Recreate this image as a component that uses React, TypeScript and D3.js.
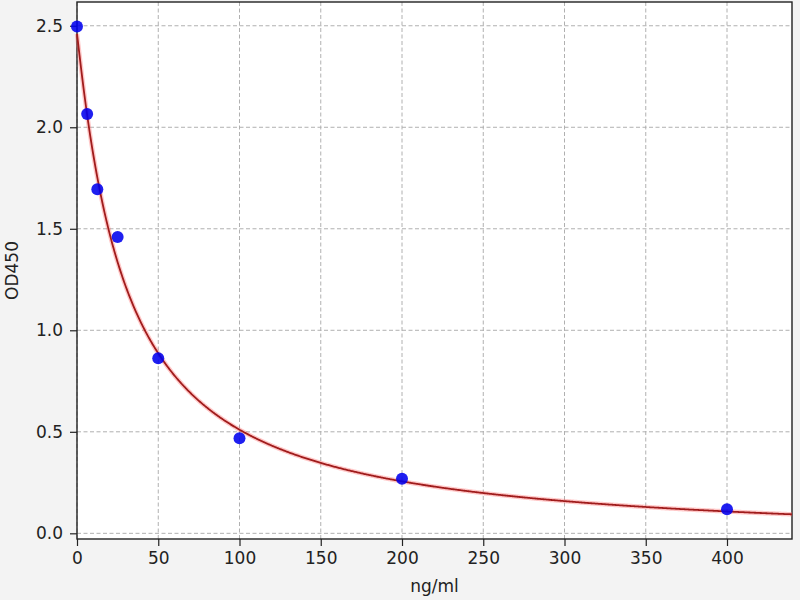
import { useRef, useEffect } from "react";
import * as d3 from "d3";

// standard curve readings (ng/ml vs OD450)
const concentrations = [0, 6.25, 12.5, 25, 50, 100, 200, 400];
const odValues = [2.496, 2.065, 1.695, 1.46, 0.862, 0.468, 0.269, 0.118];
const xTicks = [0, 50, 100, 150, 200, 250, 300, 350, 400];
const yTicks = [0, 0.5, 1.0, 1.5, 2.0, 2.5];
// four parameter logistic fit
const fitA = 2.46;
const fitB = 1.05;
const fitC = 30.5;
const fitD = -0.05;

const fourPL = (x: number) => fitD + (fitA - fitD) / (1 + Math.pow(x / fitC, fitB));

export default function App() {
  const ref = useRef<SVGSVGElement>(null);

  useEffect(() => {
    if (!ref.current) return;
    document.body.style.margin = "0";
    const svg = d3.select(ref.current);
    svg.selectAll("*").remove();

    const width = 800;
    const height = 600;
    const margin = { top: 2, right: 8, bottom: 61, left: 77 };
    const font = "DejaVu Sans, sans-serif";

    svg.attr("width", width).attr("height", height);

    svg.append("rect").attr("width", width).attr("height", height).attr("fill", "#f3f3f3");

    const x = d3.scaleLinear().domain([0, 440]).range([margin.left, width - margin.right]);
    const y = d3.scaleLinear().domain([-0.028, 2.617]).range([height - margin.bottom, margin.top]);

    svg
      .append("rect")
      .attr("x", margin.left)
      .attr("y", margin.top)
      .attr("width", width - margin.left - margin.right)
      .attr("height", height - margin.top - margin.bottom)
      .attr("fill", "#ffffff");

    // grid
    const grid = svg.append("g").attr("stroke", "#b0b0b0").attr("stroke-width", 1).attr("stroke-dasharray", "4,2.5");
    xTicks.forEach((t) => {
      grid.append("line").attr("x1", x(t)).attr("x2", x(t)).attr("y1", margin.top).attr("y2", height - margin.bottom);
    });
    yTicks.forEach((t) => {
      grid.append("line").attr("x1", margin.left).attr("x2", width - margin.right).attr("y1", y(t)).attr("y2", y(t));
    });

    // axes
    const xAxis = svg
      .append("g")
      .attr("transform", `translate(0,${height - margin.bottom})`)
      .call(d3.axisBottom(x).tickValues(xTicks).tickSize(7).tickPadding(6).tickFormat(d3.format("d")));
    const yAxis = svg
      .append("g")
      .attr("transform", `translate(${margin.left},0)`)
      .call(d3.axisLeft(y).tickValues(yTicks).tickSize(7).tickPadding(7).tickFormat(d3.format(".1f")));
    [xAxis, yAxis].forEach((ax) => {
      ax.select(".domain").remove();
      ax.selectAll("line").attr("stroke", "#222").attr("stroke-width", 1.2);
      ax.selectAll("text").attr("fill", "#222").style("font-family", font).style("font-size", "17px");
    });

    // frame
    svg
      .append("rect")
      .attr("x", margin.left)
      .attr("y", margin.top)
      .attr("width", width - margin.left - margin.right)
      .attr("height", height - margin.top - margin.bottom)
      .attr("fill", "none")
      .attr("stroke", "#222")
      .attr("stroke-width", 1.4);

    // fitted curve
    const curvePts = d3.range(0, 440.5, 0.5).map((c) => [c, fourPL(c)] as [number, number]);
    const line = d3
      .line<[number, number]>()
      .x((d) => x(d[0]))
      .y((d) => y(d[1]));
    svg
      .append("path")
      .datum(curvePts)
      .attr("d", line)
      .attr("fill", "none")
      .attr("stroke", "#ff6060")
      .attr("stroke-opacity", 0.35)
      .attr("stroke-width", 4.5);
    svg
      .append("path")
      .datum(curvePts)
      .attr("d", line)
      .attr("fill", "none")
      .attr("stroke", "#a01c1c")
      .attr("stroke-width", 1.8);

    // points
    svg
      .append("g")
      .selectAll("circle")
      .data(concentrations)
      .join("circle")
      .attr("cx", (d) => x(d))
      .attr("cy", (_, i) => y(odValues[i]))
      .attr("r", 6)
      .attr("fill", "#0000ee")
      .attr("fill-opacity", 0.88);

    // labels
    svg
      .append("text")
      .attr("x", (margin.left + width - margin.right) / 2)
      .attr("y", 592)
      .attr("text-anchor", "middle")
      .style("font-family", font)
      .style("font-size", "17px")
      .attr("fill", "#222")
      .text("ng/ml");
    svg
      .append("text")
      .attr("transform", `translate(18,${(margin.top + height - margin.bottom) / 2}) rotate(-90)`)
      .attr("text-anchor", "middle")
      .style("font-family", font)
      .style("font-size", "17px")
      .attr("fill", "#222")
      .text("OD450");
  }, []);

  return <svg ref={ref} style={{ display: "block" }} />;
}
